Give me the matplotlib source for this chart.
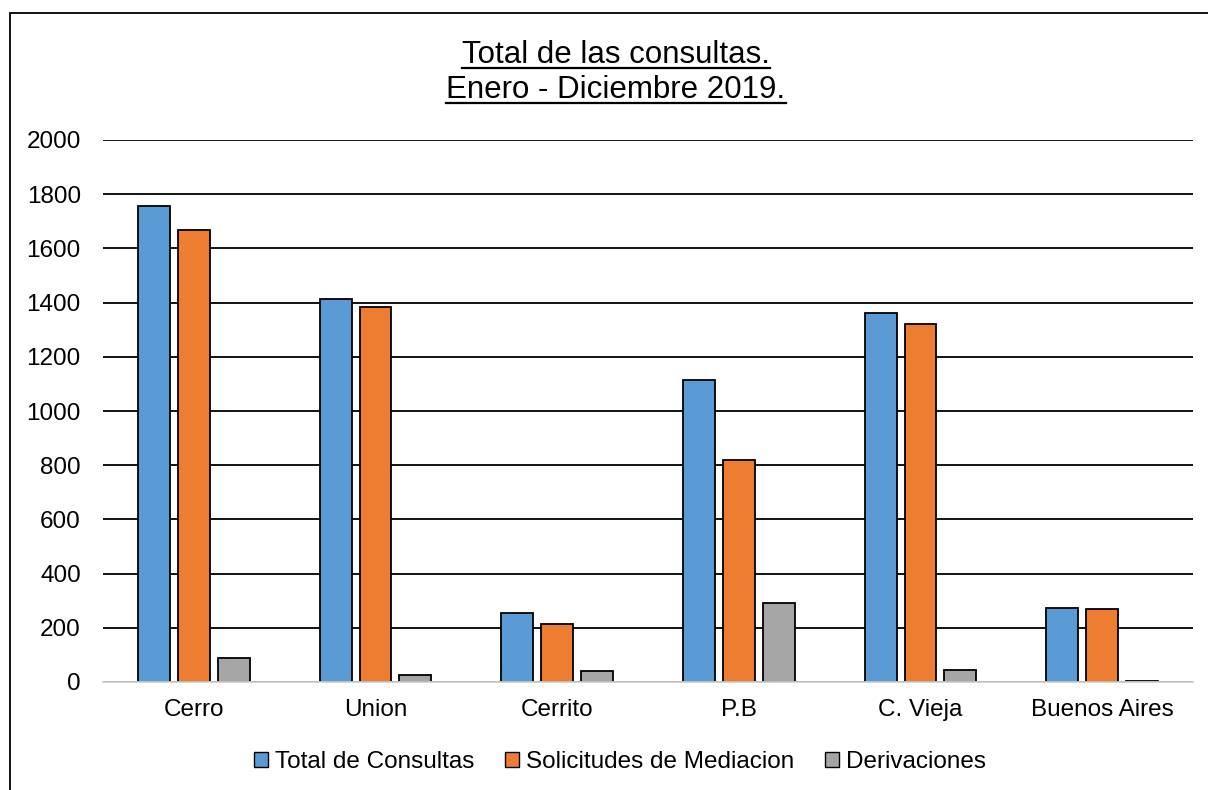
import numpy as np
import matplotlib.pyplot as plt
from matplotlib.lines import Line2D
from matplotlib.patches import Rectangle

plt.rcParams['font.family'] = ['Liberation Sans', 'DejaVu Sans']

categories = ["Cerro", "Union", "Cerrito", "P.B", "C. Vieja", "Buenos Aires"]
total_consultas = [1756, 1413, 255, 1114, 1362, 273]
solicitudes = [1668, 1384, 214, 819, 1321, 269]
derivaciones = [89, 26, 41, 292, 44, 4]

series = [
    ("Total de Consultas", total_consultas, "#5b9bd5"),
    ("Solicitudes de Mediacion", solicitudes, "#ed7d31"),
    ("Derivaciones", derivaciones, "#a5a5a5"),
]

W, H = 1208, 790
fig = plt.figure(figsize=(W / 100, H / 100), dpi=100)
ax = fig.add_axes([103 / W, 1 - 682 / H, 1090 / W, 542 / H])

x = np.arange(len(categories))
width = 0.176
step = 0.22
for i, (name, vals, col) in enumerate(series):
    ax.bar(x + (i - 1) * step, vals, width, color=col, edgecolor="black",
           linewidth=1.3, label=name, zorder=3)

ax.set_xlim(-0.5, len(categories) - 0.5)
ax.set_ylim(0, 2000)
ax.set_yticks(range(0, 2001, 200))
ax.set_xticks(x)
ax.set_xticklabels(categories)
ax.tick_params(length=0, labelsize=17.5)
ax.tick_params(axis="x", pad=12)
ax.tick_params(axis="y", pad=16)
ax.grid(axis="y", color="black", linewidth=1.3, zorder=0)
for s in ["top", "right", "left"]:
    ax.spines[s].set_visible(False)
ax.spines["bottom"].set_color("#d0d0d0")
ax.spines["bottom"].set_linewidth(1.3)
ax.spines["bottom"].set_zorder(4)

leg = fig.legend(loc="center", bbox_to_anchor=(620 / W, 1 - 762 / H), ncol=3,
                 frameon=False, fontsize=17.5, handlelength=0.58, handleheight=0.58,
                 handletextpad=0.3, columnspacing=1.25)
for h in leg.legend_handles:
    h.set_linewidth(1.0)

# outer chart border (cropped on right and bottom)
fig.patches.append(Rectangle((10 / W, -0.1), 1.2, 1 - 13 / H + 0.1,
                             transform=fig.transFigure, fill=False,
                             edgecolor="black", linewidth=1.3))

t1 = fig.text(616 / W, 1 - 63 / H, "Total de las consultas.", ha="center",
              va="baseline", fontsize=22.5)
t2 = fig.text(616 / W, 1 - 98 / H, "Enero - Diciembre 2019.", ha="center",
              va="baseline", fontsize=22.5)

fig.canvas.draw()
r = fig.canvas.get_renderer()
for t, yb in ((t1, 63), (t2, 98)):
    bb = t.get_window_extent(r).transformed(fig.transFigure.inverted())
    yline = 1 - (yb + 5) / H
    fig.add_artist(Line2D([bb.x0, bb.x1], [yline, yline], color="black",
                          linewidth=1.6, transform=fig.transFigure))

fig.savefig("out.png", dpi=100)
